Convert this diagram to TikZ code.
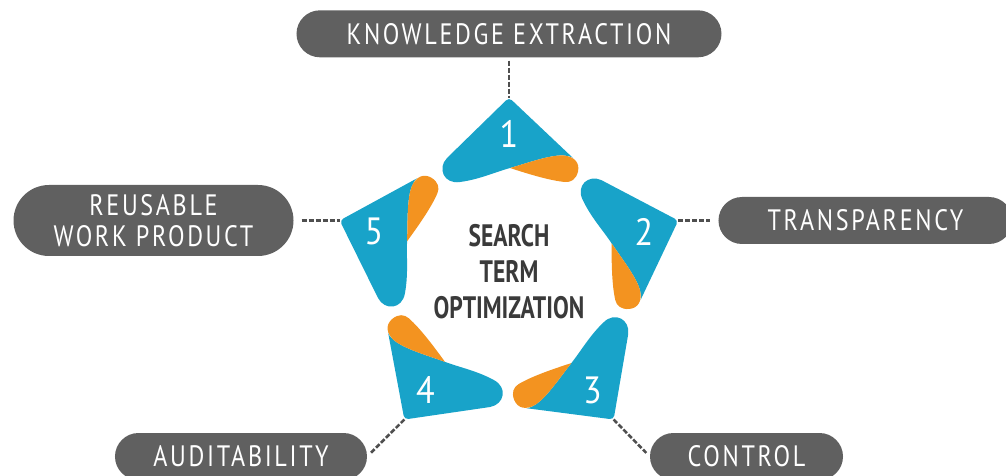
\documentclass[tikz,border=0pt]{standalone}
\usepackage{fontspec}
\usepackage{xcolor}
\usetikzlibrary{positioning}
\setmainfont{PT Sans}
\newfontfamily\pillfont[FakeStretch=0.82,LetterSpace=9]{PT Sans}
\newfontfamily\hubfont[FakeStretch=0.76]{PT Sans}
\newfontfamily\numfont[FakeStretch=0.9]{PT Sans}
\definecolor{petal}{HTML}{18A3C9}
\definecolor{flap}{HTML}{F39320}
\definecolor{pillgray}{HTML}{606060}
\definecolor{hubgray}{HTML}{3A3A3A}
\definecolor{wire}{HTML}{4F4F4F}

\begin{document}
\begin{tikzpicture}[x=1pt,y=1pt,
	pill/.style={fill=pillgray,text=white,rounded corners=23.5pt,minimum height=47pt,inner sep=0pt,
		font=\pillfont\fontsize{29.5}{31}\selectfont},
	link/.style={draw=wire,line width=2.6pt,dash pattern=on 5pt off 2pt},
	num/.style={text=white,font=\numfont\fontsize{38}{40}\selectfont}]
	\useasboundingbox (-509,-199.5) rectangle (497,275.5);
	\foreach \k in {0,...,4}{
		\begin{scope}[rotate=-72*\k]
			\fill[petal] (64,117.5) [rounded corners=4pt] -- (0,178) [sharp corners] -- (-62,117.5)
				.. controls (-72,107) and (-65,91) .. (-49,93.5)
				.. controls (-30,96) and (-15,103) .. (1,107.5)
				.. controls (20,113) and (42,121) .. (55,120)
				.. controls (60,119.5) and (63,118.5) .. (64,117.5) -- cycle;
			\fill[flap] (1,107.5) .. controls (20,113) and (42,121) .. (55,120)
				.. controls (65,119) and (71,113) .. (69,104)
				.. controls (67,96) and (62,93) .. (56,93.5)
				.. controls (40,95) and (18,102) .. (1,107.5) -- cycle;
			\coordinate (t\k) at (0,178);
		\end{scope}
	}
	\foreach \k in {1,...,5}
		\node[num] (n\k) at ({90-72*(\k-1)}:142) {\k};
	\node[text=hubgray,align=center,font=\hubfont\bfseries\fontsize{31}{36}\selectfont] (hub) at (0,3.5)
		{SEARCH\\TERM\\OPTIMIZATION};
	\node[pill,minimum width=425pt] (ke) [above=40pt of t0] {KNOWLEDGE EXTRACTION};
	\node[pill,minimum width=294pt] (tr) [right=40pt of t1] {TRANSPARENCY};
	\node[pill,minimum width=280pt,minimum height=71pt,rounded corners=35.5pt,align=center] (rw) [left=46pt of t4]
		{REUSABLE\\WORK PRODUCT};
	\node[pill,minimum width=252pt] (au) at (-268,-181) {AUDITABILITY};
	\node[pill,minimum width=193pt] (ct) at (237.5,-181) {CONTROL};
	\draw[link,shorten <=3pt] (ke.south) -- (t0);
	\draw[link,shorten >=8pt] (t1) -- (tr.west);
	\draw[link,shorten <=8pt] (rw.east) -- (t4);
	\draw[link,shorten >=5pt] (t3) -- (au.east);
	\draw[link,shorten >=5pt] (t2) -- (ct.west);
\end{tikzpicture}
\end{document}
